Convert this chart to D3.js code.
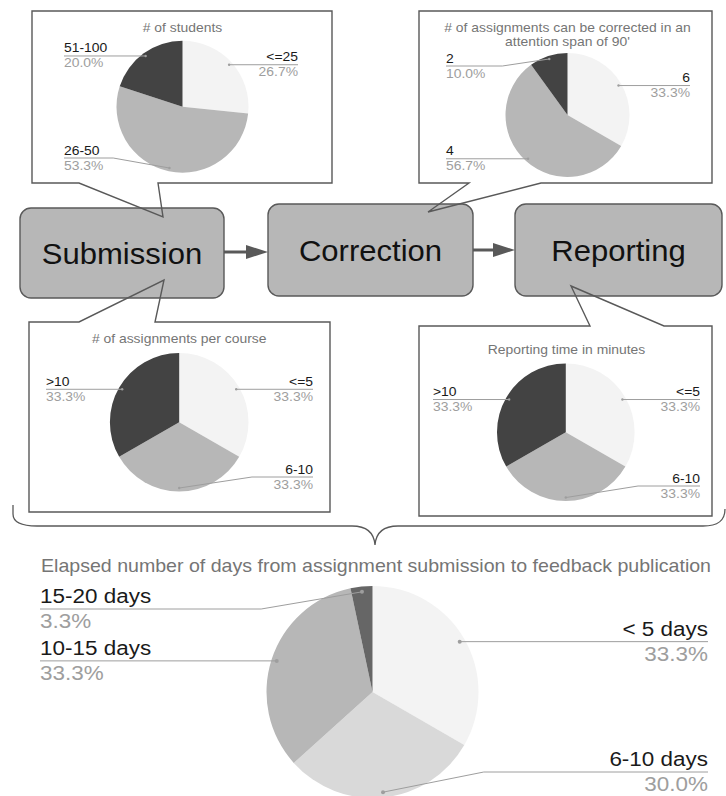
<!DOCTYPE html>
<html><head><meta charset="utf-8">
<script src="https://cdn.jsdelivr.net/npm/d3@7"></script>
<style>body{margin:0;background:#fff}svg{display:block}text{font-family:"Liberation Sans",Arial,sans-serif}</style>
</head><body><svg id="c" width="726" height="796"></svg>
<script>
// ---------- data ----------
const stages = ["Submission", "Correction", "Reporting"];

const studentsTitle = ["# of students"];
const studentsCats = ["<=25", "26-50", "51-100"];
const studentsVals = [8, 16, 6];

const correctedTitle = ["# of assignments can be corrected in an", "attention span of 90'"];
const correctedCats = ["6", "4", "2"];
const correctedVals = [10, 17, 3];

const perCourseTitle = ["# of assignments per course"];
const perCourseCats = ["<=5", "6-10", ">10"];
const perCourseVals = [10, 10, 10];

const reportingTitle = ["Reporting time in minutes"];
const reportingCats = ["<=5", "6-10", ">10"];
const reportingVals = [10, 10, 10];

const daysTitle = ["Elapsed number of days from assignment submission to feedback publication"];
const daysCats = ["< 5 days", "6-10 days", "10-15 days", "15-20 days"];
const daysVals = [10, 9, 10, 1];

// ---------- styles ----------
const SX = 1.07;
const smallColors = ["#f3f3f3", "#b7b7b7", "#434343"];
const bigColors = ["#f3f3f3", "#d9d9d9", "#b7b7b7", "#666666"];
const INK = "#595959";
const svg = d3.select("#c");

function T(g, x, y, s, size, color, anchor) {
  return g.append("text")
    .attr("transform", `translate(${x},${y}) scale(${SX},1)`)
    .attr("text-anchor", anchor).attr("font-size", size)
    .attr("fill", color).text(s);
}

// ---------- callout shapes (fill) ----------
const callouts = [
  "M32,11 H332 V183 H158 L163,217 L79,183 H32 Z",
  "M419,11 H712 V183 H541 L428,212 L469,183 H419 Z",
  "M29,322 H79 L164,280 L155,322 H330 V512 H29 Z",
  "M419,326 H590 L571,286 L664,326 H712 V516 H419 Z"
];
const calloutG = svg.append("g");
calloutG.selectAll("path").data(callouts).join("path").attr("d", d => d).attr("fill", "#fff");

// ---------- stage boxes ----------
const boxLayout = [
  {x0: 20, y0: 208, x1: 224, y1: 298},
  {x0: 268, y0: 204, x1: 473, y1: 296},
  {x0: 515, y0: 204, x1: 722, y1: 296}
];
const boxG = svg.append("g");
stages.forEach((s, i) => {
  const b = boxLayout[i];
  boxG.append("rect").attr("x", b.x0).attr("y", b.y0).attr("width", b.x1 - b.x0).attr("height", b.y1 - b.y0)
    .attr("rx", 11).attr("fill", "#b7b7b7").attr("stroke", INK).attr("stroke-width", 1.4);
  T(boxG, (b.x0 + b.x1) / 2, (b.y0 + b.y1) / 2 + 10.5, s, 29, "#111", "middle");
});
// arrows
for (let i = 0; i < stages.length - 1; i++) {
  const a = boxLayout[i], b = boxLayout[i + 1];
  const y = Math.round(((a.y0 + a.y1) / 2 + (b.y0 + b.y1) / 2) / 2);
  const hx = b.x0 - 22;
  boxG.append("line").attr("x1", a.x1).attr("x2", hx + 2).attr("y1", y).attr("y2", y)
    .attr("stroke", INK).attr("stroke-width", 3);
  boxG.append("path").attr("d", `M${hx},${y - 7} L${b.x0},${y} L${hx},${y + 7} Z`).attr("fill", INK);
}

// callout outlines on top
svg.append("g").selectAll("path").data(callouts).join("path").attr("d", d => d)
  .attr("fill", "none").attr("stroke", INK).attr("stroke-width", 1.4).attr("stroke-linejoin", "miter");

// ---------- pies ----------
function drawPie(c) {
  const g = svg.append("g");
  const pie = d3.pie().sort(null).value(d => d.v);
  const data = pie(c.cats.map((k, i) => ({k, v: c.vals[i]})));
  const total = d3.sum(c.vals);
  const arc = d3.arc().innerRadius(0).outerRadius(c.r);
  const anchorArc = d3.arc().innerRadius(c.r * 0.95).outerRadius(c.r * 0.95);
  const pg = g.append("g").attr("transform", `translate(${c.cx},${c.cy})`);
  pg.selectAll("path").data(data).join("path").attr("d", arc).attr("fill", (d, i) => c.colors[i]);

  c.title.forEach((t, i) => T(g, c.tx, c.ty + i * c.tLine, t, c.tfs, "#757575", "middle"));

  data.forEach(d => {
    const p = anchorArc.centroid(d);
    const px = p[0] + c.cx, py = p[1] + c.cy;
    const mid = (d.startAngle + d.endAngle) / 2;
    const right = mid <= Math.PI + 0.01;
    const ly = Math.max(c.minY, Math.min(c.maxY, py));
    const ex = right ? c.rightX : c.leftX;
    let path;
    if (Math.abs(ly - py) < 0.5) path = `M${px},${py} L${ex},${ly}`;
    else {
      const kx = c.cx + (right ? 1 : -1) * 1.05 * c.r;
      path = `M${px},${py} L${kx},${ly} L${ex},${ly}`;
    }
    g.append("path").attr("d", path).attr("fill", "none").attr("stroke", "#9e9e9e").attr("stroke-width", 1);
    g.append("circle").attr("cx", px).attr("cy", py).attr("r", c.dot).attr("fill", "#9e9e9e");
    const anchor = right ? "end" : "start";
    T(g, ex, ly + c.nameDy, d.data.k, c.fs, "#1a1a1a", anchor);
    T(g, ex, ly + c.pctDy, (d.data.v / total * 100).toFixed(1) + "%", c.fs, "#9e9e9e", anchor);
  });
}

const smallText = {fs: 13, nameDy: -3.5, pctDy: 11.5, tfs: 13, tLine: 14, dot: 1.2, colors: smallColors};
drawPie(Object.assign({}, smallText, {cats: studentsCats, vals: studentsVals, title: studentsTitle,
  cx: 182.5, cy: 106.7, r: 66, tx: 182.5, ty: 32, leftX: 64, rightX: 298, minY: 50, maxY: 158}));
drawPie(Object.assign({}, smallText, {cats: correctedCats, vals: correctedVals, title: correctedTitle,
  cx: 567.5, cy: 115, r: 62, tx: 567.5, ty: 31.5, leftX: 446, rightX: 690, minY: 66, maxY: 170}));
drawPie(Object.assign({}, smallText, {cats: perCourseCats, vals: perCourseVals, title: perCourseTitle,
  cx: 179.2, cy: 422.2, r: 69.3, tx: 179.2, ty: 343, leftX: 46, rightX: 313, minY: 370, maxY: 477}));
drawPie(Object.assign({}, smallText, {cats: reportingCats, vals: reportingVals, title: reportingTitle,
  cx: 565.8, cy: 432.2, r: 68.8, tx: 566.5, ty: 354, leftX: 433, rightX: 700, minY: 380, maxY: 486}));

// brace
svg.append("path")
  .attr("d", "M13,505 V514 C13,522 20,526 37,526 H352 C366,526 374,532 375,545 C376,532 384,526 398,526 H703 C718,526 725,521 725,509")
  .attr("fill", "none").attr("stroke", INK).attr("stroke-width", 1.3);

drawPie({cats: daysCats, vals: daysVals, title: daysTitle, colors: bigColors,
  cx: 372.5, cy: 692, r: 106, tx: 376, ty: 572, tfs: 18.3, tLine: 20,
  fs: 21, nameDy: -6, pctDy: 19, dot: 2, leftX: 40, rightX: 708, minY: 609, maxY: 772});
</script></body></html>
